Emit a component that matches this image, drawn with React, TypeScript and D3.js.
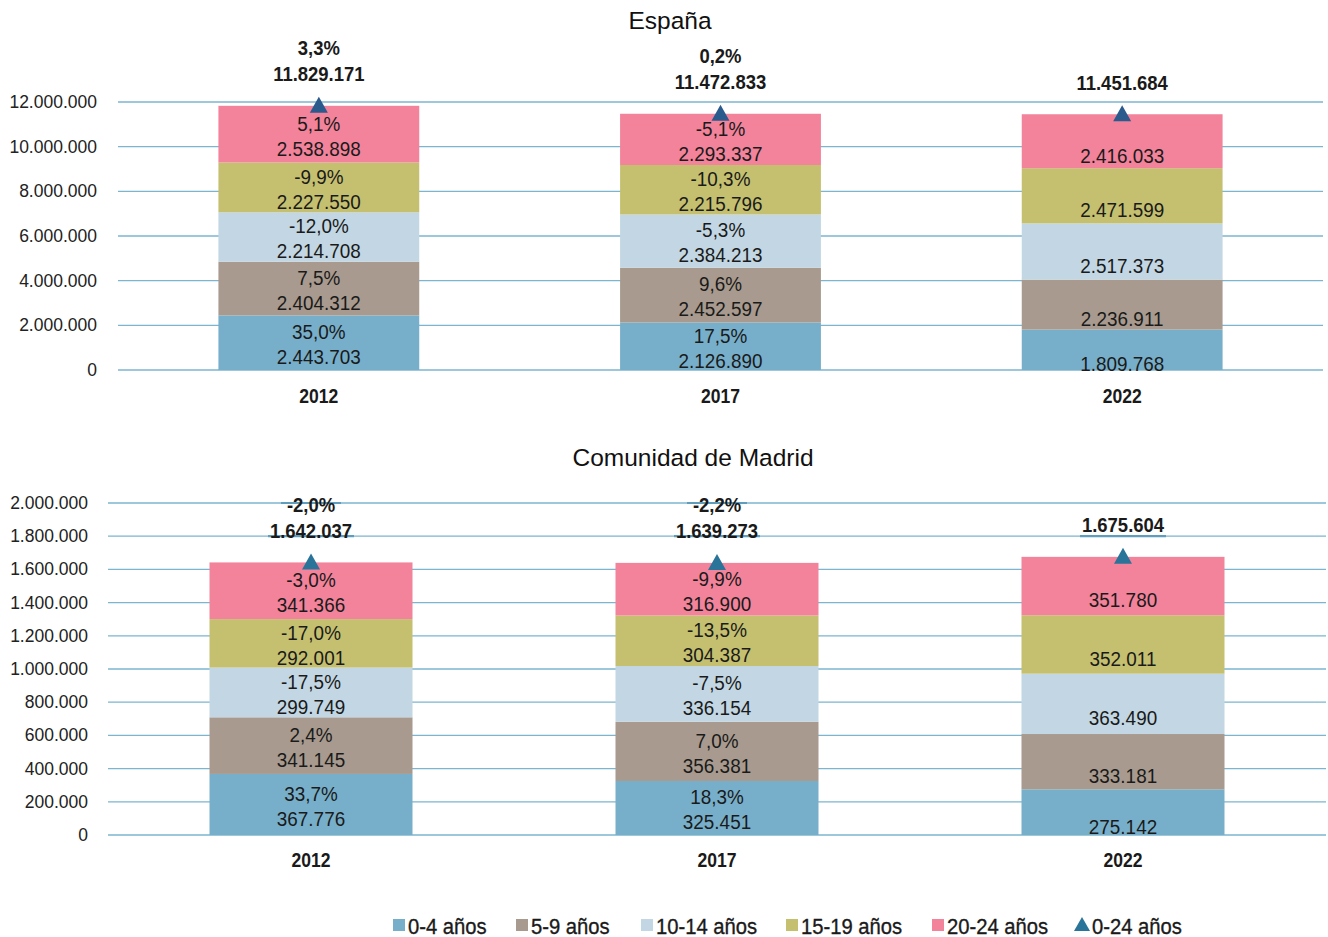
import React from "react";
import * as d3 from "d3";

const years = ["2012", "2017", "2022"];
const groups = ["0-4 años", "5-9 años", "10-14 años", "15-19 años", "20-24 años"];
const totalLabel = "0-24 años";
const groupColors = ["#77AFCA", "#A89A8E", "#C2D7E3", "#C5C06F", "#F2839B"];

// España
const esp0_4 = [2443703, 2126890, 1809768];
const esp5_9 = [2404312, 2452597, 2236911];
const esp10_14 = [2214708, 2384213, 2517373];
const esp15_19 = [2227550, 2215796, 2471599];
const esp20_24 = [2538898, 2293337, 2416033];
const espPct0_4 = ["35,0%", "17,5%", ""];
const espPct5_9 = ["7,5%", "9,6%", ""];
const espPct10_14 = ["-12,0%", "-5,3%", ""];
const espPct15_19 = ["-9,9%", "-10,3%", ""];
const espPct20_24 = ["5,1%", "-5,1%", ""];
const espTotal = [11829171, 11472833, 11451684];
const espTotalPct = ["3,3%", "0,2%", ""];
const espTicks = [0, 2000000, 4000000, 6000000, 8000000, 10000000, 12000000];

// Comunidad de Madrid
const mad0_4 = [367776, 325451, 275142];
const mad5_9 = [341145, 356381, 333181];
const mad10_14 = [299749, 336154, 363490];
const mad15_19 = [292001, 304387, 352011];
const mad20_24 = [341366, 316900, 351780];
const madPct0_4 = ["33,7%", "18,3%", ""];
const madPct5_9 = ["2,4%", "7,0%", ""];
const madPct10_14 = ["-17,5%", "-7,5%", ""];
const madPct15_19 = ["-17,0%", "-13,5%", ""];
const madPct20_24 = ["-3,0%", "-9,9%", ""];
const madTotal = [1642037, 1639273, 1675604];
const madTotalPct = ["-2,0%", "-2,2%", ""];
const madTicks = [0, 200000, 400000, 600000, 800000, 1000000, 1200000, 1400000, 1600000, 1800000, 2000000];

const locale = d3.formatLocale({ decimal: ",", thousands: ".", grouping: [3], currency: ["", "€"] });
const fmt = locale.format(",d");

const SANS = "'Liberation Sans', Arial, Helvetica, sans-serif";
const GRID = "#7DB4CE";
const TEXT = "#1a1a1a";

function CText(props: {
  x: number; y: number; sx?: number; size: number; bold?: boolean; anchor?: string; children: React.ReactNode; fill?: string;
}) {
  const sx = props.sx ?? 0.9;
  return (
    <g transform={`translate(${props.x},${props.y}) scale(${sx},1)`}>
      <text x={0} y={0} textAnchor={props.anchor ?? "middle"} dominantBaseline="central"
        fontFamily={SANS} fontSize={props.size} fontWeight={props.bold ? "bold" : "normal"} fill={props.fill ?? TEXT}>
        {props.children}
      </text>
    </g>
  );
}

type ChartProps = {
  title: string;
  titleX: number;
  titleY: number;
  series: number[][];
  pcts: string[][];
  totals: number[];
  totalPcts: string[];
  ticks: number[];
  x0: number;
  x1: number;
  yBottom: number;
  yTop: number;
  tickX: number;
  catY: number;
  triColor: string;
  markGrid: boolean;
};

function Chart(p: ChartProps) {
  const max = p.ticks[p.ticks.length - 1];
  const y = d3.scaleLinear().domain([0, max]).range([p.yBottom, p.yTop]);
  const x = d3.scaleBand().domain(years).range([p.x0, p.x1]).paddingInner(0.5).paddingOuter(0.25);
  const stack = years.map((yr, i) => {
    let acc = 0;
    return p.series.map((s, g) => {
      const lo = acc;
      acc += s[i];
      return { g, lo, hi: acc, v: s[i], pct: p.pcts[g][i] };
    });
  });
  return (
    <g>
      <text x={p.titleX} y={p.titleY} textAnchor="middle" dominantBaseline="central"
        fontFamily={SANS} fontSize={24.5} fill="#111">{p.title}</text>
      {p.ticks.map((t) => (
        <g key={t}>
          <line x1={p.x0} x2={p.x1} y1={y(t)} y2={y(t)} stroke={GRID} strokeWidth={1.3} />
          <text x={p.tickX} y={y(t)} textAnchor="end" dominantBaseline="central"
            fontFamily={SANS} fontSize={17.5} fill="#222">{fmt(t)}</text>
        </g>
      ))}
      {years.map((yr, i) => {
        const bx = x(yr)!;
        const bw = x.bandwidth();
        const cx = bx + bw / 2;
        const ty = y(p.totals[i]);
        return (
          <g key={yr}>
            {stack[i].map((s) => (
              <rect key={s.g} x={bx} width={bw} y={y(s.hi)} height={y(s.lo) - y(s.hi)} fill={groupColors[s.g]} />
            ))}
            {stack[i].map((s) => {
              const cy = (y(s.lo) + y(s.hi)) / 2;
              return (
                <g key={"l" + s.g}>
                  {s.pct && <CText x={cx} y={cy - 11} size={21}>{s.pct}</CText>}
                  <CText x={cx} y={cy + 14} size={21}>{fmt(s.v)}</CText>
                </g>
              );
            })}
            <path
              d={`M${cx},${ty - 9}L${cx + 9},${ty + 7}L${cx - 9},${ty + 7}Z`}
              fill={p.triColor}
            />
            {p.markGrid && (
              <g>
                {p.totalPcts[i] && <line x1={cx - 30} x2={cx + 30} y1={y(p.ticks[p.ticks.length - 1])} y2={y(p.ticks[p.ticks.length - 1])} stroke="#5E9DBB" strokeWidth={2.2} />}
                <line x1={cx - 43} x2={cx + 43} y1={y(p.ticks[p.ticks.length - 2])} y2={y(p.ticks[p.ticks.length - 2])} stroke="#5E9DBB" strokeWidth={2.2} />
              </g>
            )}
            {p.totalPcts[i] && <CText x={cx} y={ty - 58} size={21} bold sx={0.88}>{p.totalPcts[i]}</CText>}
            <CText x={cx} y={ty - 32} size={21} bold sx={0.88}>{fmt(p.totals[i])}</CText>
            <CText x={cx} y={p.catY} size={19.5} bold sx={0.9}>{yr}</CText>
          </g>
        );
      })}
    </g>
  );
}

const legendX = [393, 516, 641, 786, 932, 1075];

export default function App() {
  return (
    <div style={{ position: "absolute", left: 0, top: 0 }}>
      <svg width={1328} height={937} viewBox="0 0 1328 937" style={{ display: "block", background: "#fff" }}>
        <Chart
          title="España" titleX={670} titleY={20}
          series={[esp0_4, esp5_9, esp10_14, esp15_19, esp20_24]}
          pcts={[espPct0_4, espPct5_9, espPct10_14, espPct15_19, espPct20_24]}
          totals={espTotal} totalPcts={espTotalPct} ticks={espTicks}
          x0={118} x1={1323} yBottom={370} yTop={102} tickX={97} catY={396}
          triColor="#2B5A8C" markGrid={false}
        />
        <Chart
          title="Comunidad de Madrid" titleX={693} titleY={457}
          series={[mad0_4, mad5_9, mad10_14, mad15_19, mad20_24]}
          pcts={[madPct0_4, madPct5_9, madPct10_14, madPct15_19, madPct20_24]}
          totals={madTotal} totalPcts={madTotalPct} ticks={madTicks}
          x0={108} x1={1326} yBottom={835} yTop={503} tickX={88} catY={860}
          triColor="#2A7399" markGrid={true}
        />
        {groups.map((g, i) => (
          <g key={g}>
            <rect x={legendX[i]} y={919} width={12} height={12} fill={groupColors[i]} />
            <g stroke={TEXT} strokeWidth={0.35}>
              <CText x={legendX[i] + 15} y={926} size={22} sx={0.92} anchor="start">{g}</CText>
            </g>
          </g>
        ))}
        <path d={`M${legendX[5] + 7},${917}L${legendX[5] + 15},${931}L${legendX[5] - 1},${931}Z`} fill="#2A7399" />
        <g stroke={TEXT} strokeWidth={0.35}>
          <CText x={legendX[5] + 17} y={926} size={22} sx={0.92} anchor="start">{totalLabel}</CText>
        </g>
      </svg>
    </div>
  );
}
